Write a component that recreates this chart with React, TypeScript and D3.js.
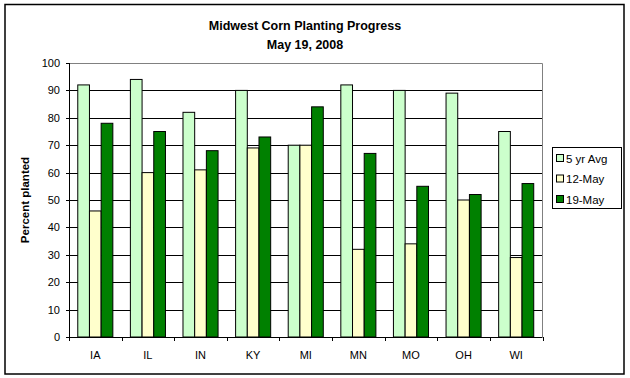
import React from "react";
import * as d3 from "d3";

const categories = ["IA", "IL", "IN", "KY", "MI", "MN", "MO", "OH", "WI"];
const seriesNames = ["5 yr Avg", "12-May", "19-May"];
const avg5 = [92, 94, 82, 90, 70, 92, 90, 89, 75];
const may12 = [46, 60, 61, 69, 70, 32, 34, 50, 29];
const may19 = [78, 75, 68, 73, 84, 67, 55, 52, 56];
const seriesColors = ["#CCFFCC", "#FFFFCC", "#008000"];
const yTicks = [0, 10, 20, 30, 40, 50, 60, 70, 80, 90, 100];

const W = 630;
const H = 378;
const plot = { left: 69, right: 542.5, top: 63, bottom: 337 };
const font = "'Liberation Sans', Arial, sans-serif";

export default function App() {
  const series = [avg5, may12, may19];
  const x = d3.scaleBand<string>().domain(categories).range([plot.left, plot.right]).padding(0);
  const y = d3.scaleLinear().domain([0, 100]).range([plot.bottom, plot.top]);
  const bw = x.bandwidth() / 4.5;
  const off = bw * 0.75;

  return (
    <svg width={W} height={H} style={{ position: "absolute", left: 0, top: 0, background: "#fff" }} fontFamily={font}>
      <rect x={0} y={0} width={W} height={H} fill="#fff" />
      <rect x={5} y={4.5} width={619} height={369.5} fill="none" stroke="#000" strokeWidth={1.5} />
      <text x={305} y={30} textAnchor="middle" fontSize={12.5} fontWeight="bold">Midwest Corn Planting Progress</text>
      <text x={305} y={49} textAnchor="middle" fontSize={12.5} fontWeight="bold">May 19, 2008</text>

      {/* gridlines */}
      {yTicks.filter((t) => t > 0 && t < 100).map((t) => (
        <line key={t} x1={plot.left} x2={plot.right} y1={Math.round(y(t)) + 0.5} y2={Math.round(y(t)) + 0.5} stroke="#000" strokeWidth={1} />
      ))}
      {/* plot border top/right */}
      <polyline
        points={`${plot.left},${plot.top + 0.5} ${plot.right},${plot.top + 0.5} ${plot.right},${plot.bottom}`}
        fill="none"
        stroke="#808080"
        strokeWidth={1}
      />

      {/* bars */}
      {categories.map((c, i) => (
        <g key={c}>
          {series.map((s, k) => (
            <rect
              key={k}
              x={(x(c) as number) + off + k * bw}
              y={y(s[i])}
              width={bw}
              height={plot.bottom - y(s[i])}
              fill={seriesColors[k]}
              stroke="#000"
              strokeWidth={1}
            />
          ))}
        </g>
      ))}

      {/* y axis */}
      <line x1={plot.left + 0.5} x2={plot.left + 0.5} y1={plot.top} y2={plot.bottom} stroke="#000" />
      {yTicks.map((t) => (
        <g key={t}>
          <line x1={plot.left - 3} x2={plot.left} y1={Math.round(y(t)) + 0.5} y2={Math.round(y(t)) + 0.5} stroke="#000" />
          <text x={60} y={y(t) + 4} textAnchor="end" fontSize={11}>{t}</text>
        </g>
      ))}
      <text transform={`translate(29,${(plot.top + plot.bottom) / 2}) rotate(-90)`} textAnchor="middle" fontSize={11.5} fontWeight="bold">Percent planted</text>

      {/* x axis */}
      <line x1={plot.left} x2={plot.right} y1={plot.bottom + 0.5} y2={plot.bottom + 0.5} stroke="#000" />
      {categories.map((c) => (
        <line key={c + "t"} x1={Math.round(x(c) as number) + 0.5} x2={Math.round(x(c) as number) + 0.5} y1={plot.bottom} y2={plot.bottom + 4} stroke="#000" />
      ))}
      <line x1={Math.round(plot.right) + 0.5} x2={Math.round(plot.right) + 0.5} y1={plot.bottom} y2={plot.bottom + 4} stroke="#000" />
      {categories.map((c) => (
        <text key={c + "l"} x={(x(c) as number) + x.bandwidth() / 2} y={359} textAnchor="middle" fontSize={11}>{c}</text>
      ))}

      {/* legend */}
      <rect x={552.5} y={147.5} width={69} height={61} fill="#fff" stroke="#000" strokeWidth={1} />
      {seriesNames.map((n, k) => (
        <g key={n}>
          <rect x={556.5} y={154.5 + k * 20.5} width={7} height={7} fill={seriesColors[k]} stroke="#000" />
          <text x={566} y={162.5 + k * 20.5} fontSize={11.5}>{n}</text>
        </g>
      ))}
    </svg>
  );
}
